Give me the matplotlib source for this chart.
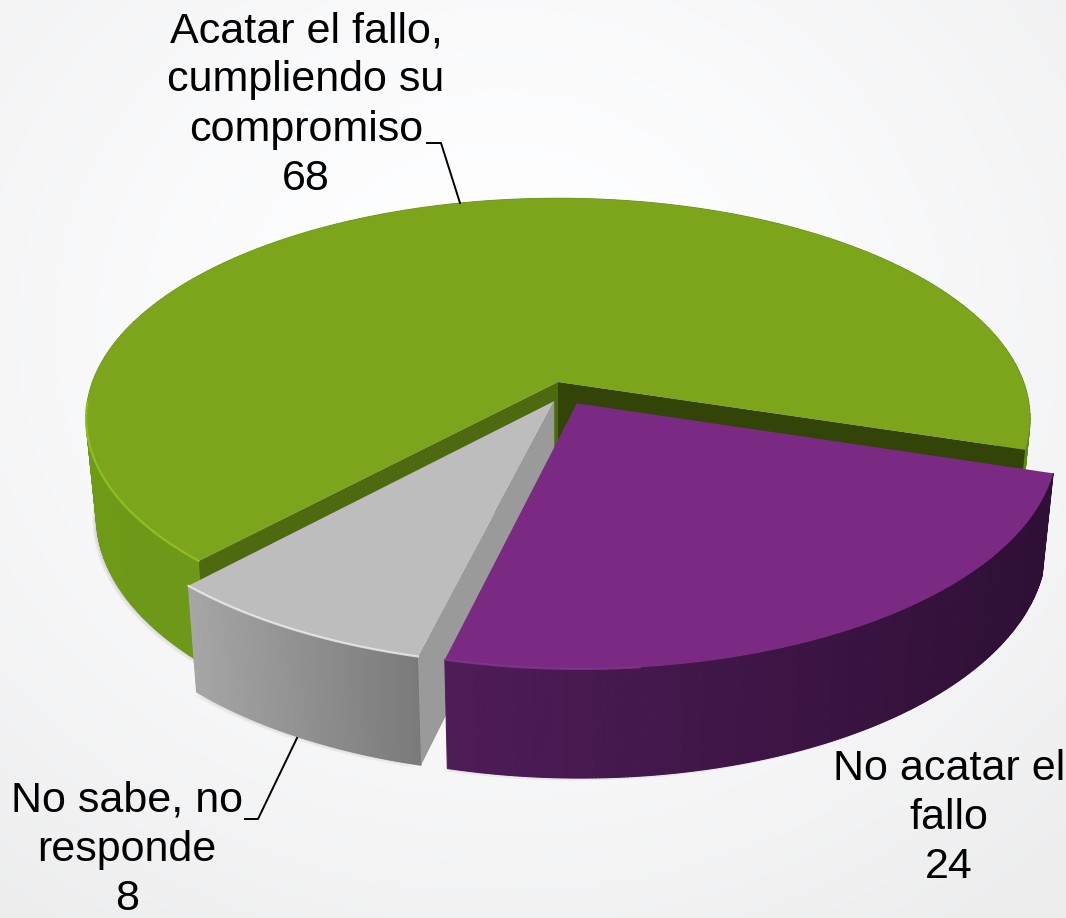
#!/usr/bin/env python3
import numpy as np
import matplotlib
matplotlib.use('Agg')
import matplotlib.pyplot as plt
from matplotlib.colors import to_rgb

# chart data
labels = ['Acatar el fallo,\ncumpliendo su\ncompromiso', 'No sabe, no\nresponde', 'No acatar el\nfallo']
values = [68, 8, 24]

# styles, same order as values
top_cols = ['#7ca51c', '#bdbdbd', '#7b2a84']
wall_left = ['#6f9a18', '#a6a6a6', '#4e1c57']
wall_right = ['#5f8a14', '#7a7a7a', '#2e0f35']
rim_cols = ['#97c926', '#f4f4f4', '#873690']
# cut faces at the start and end of each slice, None when hidden
cut_cols = [('#324407', '#4d6a10'), (None, '#9a9a9a'), (None, None)]
offsets = [(0.0, 0.0), (-0.008, -0.088), (0.04, -0.098)]
label_xy = [(306, 105), (127, 850), (949, 818)]

# projection of the pie disc, in pixels
cx, cy = 558, 382
rx, ry = 465.5, 214.0
k = 0.165
start = -17.5


def proj(u, v):
    w = 1 + k*v
    return cx + rx*u/w, cy - ry*v/w


def lower(x, y, v):
    # same point on the bottom face of the pie
    return cx + 2 + (x - cx - 2)*0.978, y + 97 - 11*v


def lerp(c1, c2, f):
    a, b = np.array(to_rgb(c1)), np.array(to_rgb(c2))
    return tuple(a + (b - a)*f)


fig = plt.figure(figsize=(10.66, 9.18), dpi=100)
ax = fig.add_axes([0, 0, 1, 1])
ax.set_xlim(0, 1066)
ax.set_ylim(918, 0)
ax.axis('off')

# background glow
yy, xx = np.mgrid[0:918, 0:1066]
dist = np.sqrt(((xx - 500)/800.0)**2 + ((yy - 330)/720.0)**2)
shade = 1 - 0.07*np.clip(dist, 0, 1)**1.5
bg = np.dstack([shade, shade + 0.0015, shade + 0.006]).clip(0, 1)
ax.imshow(bg, extent=(0, 1066, 918, 0), aspect='auto', zorder=0)

edges = start + np.concatenate([[0], np.cumsum(values)])*360.0/sum(values)

# soft shadow below the walls
for i, val in enumerate(values):
    t = np.radians(np.linspace(edges[i], edges[i+1], 200))
    u = offsets[i][0] + np.cos(t)
    v = offsets[i][1] + np.sin(t)
    x, y = proj(u, v)
    xb, yb = lower(x, y, v)
    for s in [11, 8, 5, 3]:
        ax.fill(xb - s*0.35, yb - 4 + s*0.6, color='#555555', alpha=0.08, lw=0, zorder=1)

for i, val in enumerate(values):
    z = 2 + i
    ou, ov = offsets[i]
    t = np.radians(np.linspace(edges[i], edges[i+1], 240))
    u = ou + np.cos(t)
    v = ov + np.sin(t)
    x, y = proj(u, v)
    xb, yb = lower(x, y, v)
    ax_, ay_ = proj(ou, ov)
    axb, ayb = lower(ax_, ay_, ov)

    # outer wall, shaded left to right
    vis = np.where(y > ay_ - 60)[0]
    xmin, xmax = x[vis].min(), x[vis].max()
    for j in range(len(t) - 1):
        f = (x[j] - xmin)/max(xmax - xmin, 1)
        f = np.clip(f, 0, 1)
        ax.fill([x[j], x[j+1], xb[j+1], xb[j]], [y[j], y[j+1], yb[j+1], yb[j]],
                color=lerp(wall_left[i], wall_right[i], f), lw=0.8, zorder=z)

    # cut faces
    if cut_cols[i][0]:
        ax.fill([ax_, x[0], xb[0], axb], [ay_, y[0], yb[0], ayb], color=cut_cols[i][0], lw=0, zorder=z)
    if cut_cols[i][1]:
        ax.fill([ax_, x[-1], xb[-1], axb], [ay_, y[-1], yb[-1], ayb], color=cut_cols[i][1], lw=0, zorder=z)

    # top face and lit rim
    ax.fill(np.r_[ax_, x], np.r_[ay_, y], color=top_cols[i], lw=0, zorder=z)
    rim_y = np.where((y > ay_ + 20) & (x < 640), y, np.nan)
    ax.plot(x, rim_y, color=rim_cols[i], lw=1.6, alpha=0.75, zorder=z, solid_capstyle='round')

    ax.text(label_xy[i][0], label_xy[i][1], f'{labels[i]}\n{val}', ha='center', va='center',
            fontsize=31, family='Liberation Sans', color='black', linespacing=1.3, zorder=9)

# leader lines
ax.plot([427, 441, 460], [143, 143, 203], color='black', lw=1.4, zorder=8)
ax.plot([245, 258, 297], [819, 819, 738], color='black', lw=1.4, zorder=8)

fig.savefig('out.png', dpi=100)
